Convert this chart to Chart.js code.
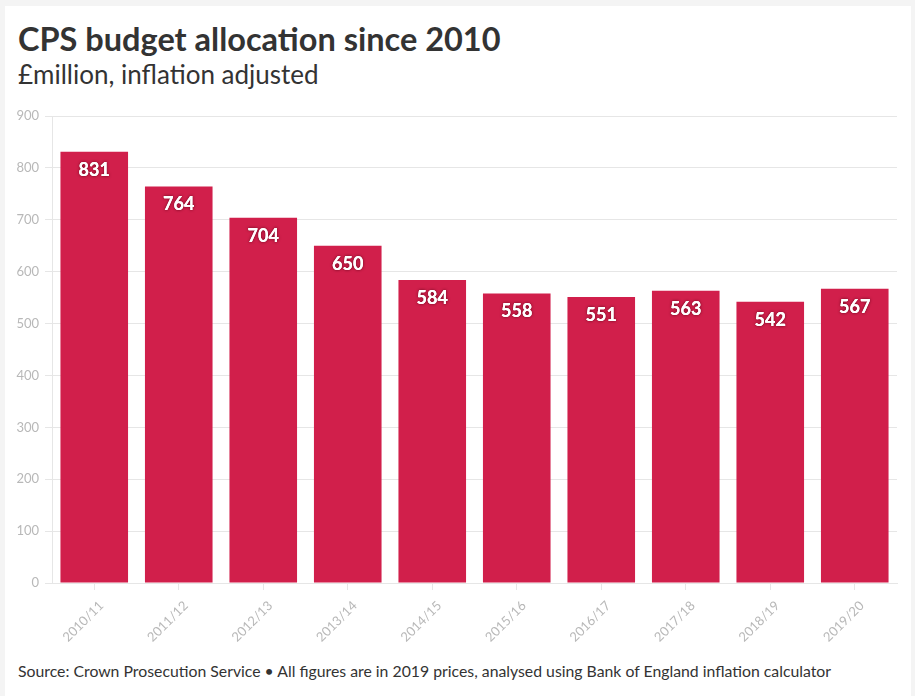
<!DOCTYPE html>
<html><head><meta charset="utf-8">
<script src="https://cdn.jsdelivr.net/npm/chart.js@4"></script>
<style>
html,body{margin:0;padding:0;background:#f4f4f4;width:915px;height:696px;overflow:hidden;font-family:"Lato","Open Sans",sans-serif;}
#card{position:absolute;left:5px;top:6px;width:906px;height:690px;background:#fff;}
#title{position:absolute;left:18px;top:19px;font-size:32.5px;font-weight:700;color:#333;white-space:nowrap;}
#sub{position:absolute;left:18px;top:58px;font-size:26px;color:#333;white-space:nowrap;}
#foot{position:absolute;left:18px;top:661px;font-size:15.8px;color:#333;white-space:nowrap;}
#wrap{position:absolute;left:0;top:100px;width:915px;height:555px;}
</style></head>
<body>
<div id="card"></div>
<div id="title">CPS budget allocation since 2010</div>
<div id="sub">£million, inflation adjusted</div>
<div id="wrap"><canvas id="c"></canvas></div>
<div id="foot">Source: Crown Prosecution Service • All figures are in 2019 prices, analysed using Bank of England inflation calculator</div>
<script>
const categories = ["2010/11","2011/12","2012/13","2013/14","2014/15","2015/16","2016/17","2017/18","2018/19","2019/20"];
const budget = [831,764,704,650,584,558,551,563,542,567];
const yTicks = [0,100,200,300,400,500,600,700,800,900];

const labelPlugin = {
  id:'barLabels',
  afterDatasetsDraw(chart){
    const ctx = chart.ctx;
    const meta = chart.getDatasetMeta(0);
    ctx.save();
    ctx.font = 'bold 18px Lato, "Open Sans", sans-serif';
    ctx.textAlign = 'center';
    ctx.textBaseline = 'middle';
    meta.data.forEach((bar,i)=>{
      const v = chart.data.datasets[0].data[i];
      ctx.shadowColor = 'rgba(80,0,20,0.9)';
      ctx.shadowBlur = 3;
      ctx.fillStyle = '#fff';
      ctx.fillText(String(v), bar.x, bar.y + 18);
      ctx.shadowBlur = 0;
      ctx.fillText(String(v), bar.x, bar.y + 18);
    });
    ctx.restore();
  }
};

new Chart(document.getElementById('c'), {
  type:'bar',
  data:{labels:categories, datasets:[{data:budget, backgroundColor:'#d11f4b', borderWidth:0, categoryPercentage:0.8, barPercentage:1}]},
  options:{
    responsive:true, maintainAspectRatio:false, animation:false,
    devicePixelRatio:1,
    layout:{padding:{left:0,right:18,top:16,bottom:0}},
    plugins:{legend:{display:false}, tooltip:{enabled:false}},
    scales:{
      x:{
        grid:{display:true, drawOnChartArea:false, drawTicks:true, tickLength:7, offset:false, color:'#e6e6e6'},
        border:{display:true,color:'#e6e6e6'},
        ticks:{color:'#b8b8b8', font:{family:'Lato', size:13}, maxRotation:45, minRotation:45, padding:8, labelOffset:7},
        afterFit(s){ s.height = 72; }
      },
      y:{
        min:0, max:900,
        afterBuildTicks(s){ s.ticks = yTicks.map(v=>({value:v})); },
        grid:{color:'#e6e6e6', tickLength:7},
        border:{display:true,color:'#e6e6e6'},
        ticks:{color:'#b8b8b8', font:{family:'Lato', size:13}, padding:6},
        afterFit(s){ s.width = 52; }
      }
    }
  },
  plugins:[labelPlugin]
});
</script>
</body></html>
